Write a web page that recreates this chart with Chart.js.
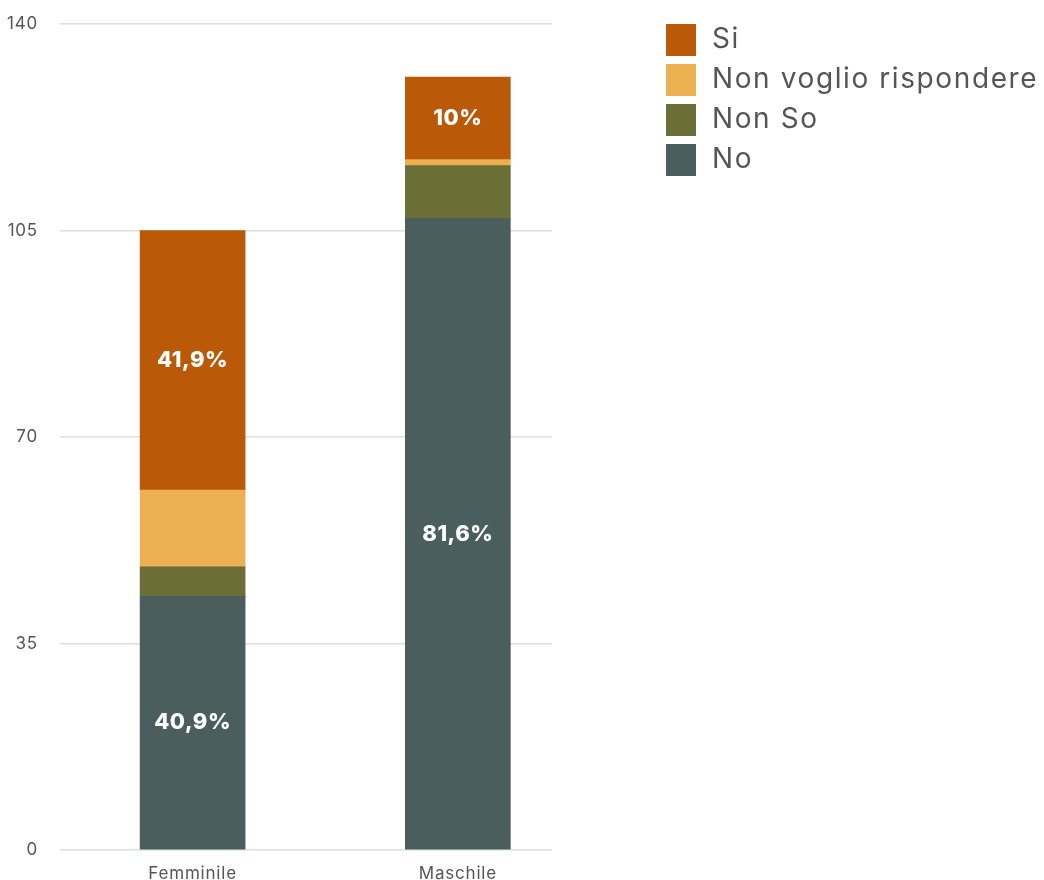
<!DOCTYPE html>
<html>
<head>
<meta charset="utf-8">
<script src="https://cdn.jsdelivr.net/npm/chart.js@4/dist/chart.umd.min.js"></script>
<style>
  html, body { margin: 0; padding: 0; background: #ffffff; }
  #wrap { width: 1044px; height: 880px; }
</style>
</head>
<body>
<div id="wrap"><canvas id="c" width="1044" height="880"></canvas></div>
<script>
// Respondents by gender and answer (counts), stacked bottom to top
const categories = ['Femminile', 'Maschile'];
const noValues = [43, 107];
const nonSoValues = [5, 9];
const nonVoglioValues = [13, 1];
const siValues = [44, 14];

// Percentage captions shown inside the bars
const noLabels = ['40,9%', '81,6%'];
const siLabels = ['41,9%', '10%'];

const yTicks = [0, 35, 70, 105, 140];

const FONT = "Inter, 'Noto Sans', 'DejaVu Sans', sans-serif";

// bars sit at the middle of each category slot on a linear index axis
const slot = i => i + 0.5;
const toPoints = arr => arr.map((v, i) => ({ x: slot(i), y: v }));

const datasets = [
  { label: 'No', data: toPoints(noValues), backgroundColor: '#4a5e5e', captions: noLabels },
  { label: 'Non So', data: toPoints(nonSoValues), backgroundColor: '#6b6e36', captions: [] },
  { label: 'Non voglio rispondere', data: toPoints(nonVoglioValues), backgroundColor: '#ecb052', captions: [] },
  { label: 'Si', data: toPoints(siValues), backgroundColor: '#ba5a08', captions: siLabels }
];

// slightly open letter spacing for all canvas text
const spacing = {
  id: 'spacing',
  beforeDraw(chart) { chart.ctx.letterSpacing = '0.8px'; }
};

// white captions centred on their segment
const captionPlugin = {
  id: 'captions',
  afterDatasetsDraw(chart) {
    const ctx = chart.ctx;
    ctx.save();
    ctx.fillStyle = '#ffffff';
    ctx.font = "800 22px " + FONT;
    ctx.letterSpacing = '0.5px';
    ctx.textAlign = 'center';
    ctx.textBaseline = 'middle';
    chart.data.datasets.forEach((ds, di) => {
      const meta = chart.getDatasetMeta(di);
      meta.data.forEach((el, i) => {
        const txt = ds.captions[i];
        if (!txt) return;
        ctx.fillText(txt, el.x, (el.y + el.base) / 2);
      });
    });
    ctx.restore();
  }
};

// legend column to the right of the plot, top series first
const sideLegend = {
  id: 'sideLegend',
  afterDraw(chart) {
    const ctx = chart.ctx;
    const left = 666, top = 24, step = 40, boxW = 30, boxH = 32;
    ctx.save();
    ctx.font = "400 28px " + FONT;
    ctx.letterSpacing = '1.6px';
    ctx.textBaseline = 'middle';
    ctx.textAlign = 'left';
    const items = chart.data.datasets.slice().reverse();
    items.forEach((ds, i) => {
      const y = top + i * step;
      ctx.fillStyle = ds.backgroundColor;
      ctx.fillRect(left, y, boxW, boxH);
      ctx.fillStyle = '#555555';
      ctx.fillText(ds.label, left + boxW + 16, y + boxH / 2);
    });
    ctx.restore();
  }
};

new Chart(document.getElementById('c'), {
  type: 'bar',
  data: { datasets },
  options: {
    responsive: false,
    animation: false,
    layout: { padding: { top: 24, right: 492, bottom: 0, left: 0 } },
    datasets: { bar: { barThickness: 105, borderWidth: 0 } },
    scales: {
      x: {
        type: 'linear',
        stacked: true,
        offset: false,
        min: 0,
        max: 1.855,
        grid: { display: false },
        border: { display: false },
        afterBuildTicks: s => { s.ticks = categories.map((c, i) => ({ value: slot(i) })); },
        afterFit: s => { s.height = 30; },
        ticks: {
          autoSkip: false,
          maxRotation: 0,
          padding: 6,
          color: '#555555',
          font: { family: FONT, size: 17 },
          callback: (v, i) => categories[i]
        }
      },
      y: {
        stacked: true,
        min: 0,
        max: 140,
        afterBuildTicks: s => { s.ticks = yTicks.map(v => ({ value: v })); },
        afterFit: s => { s.width = 60; },
        grid: { color: '#dedede', lineWidth: 1.5, drawTicks: true, tickLength: 22, tickColor: 'rgba(0,0,0,0)' },
        border: { display: false },
        ticks: {
          padding: 0,
          color: '#555555',
          font: { family: FONT, size: 17 }
        }
      }
    },
    plugins: {
      legend: { display: false },
      tooltip: { enabled: false }
    }
  },
  plugins: [spacing, captionPlugin, sideLegend]
});
</script>
</body>
</html>
